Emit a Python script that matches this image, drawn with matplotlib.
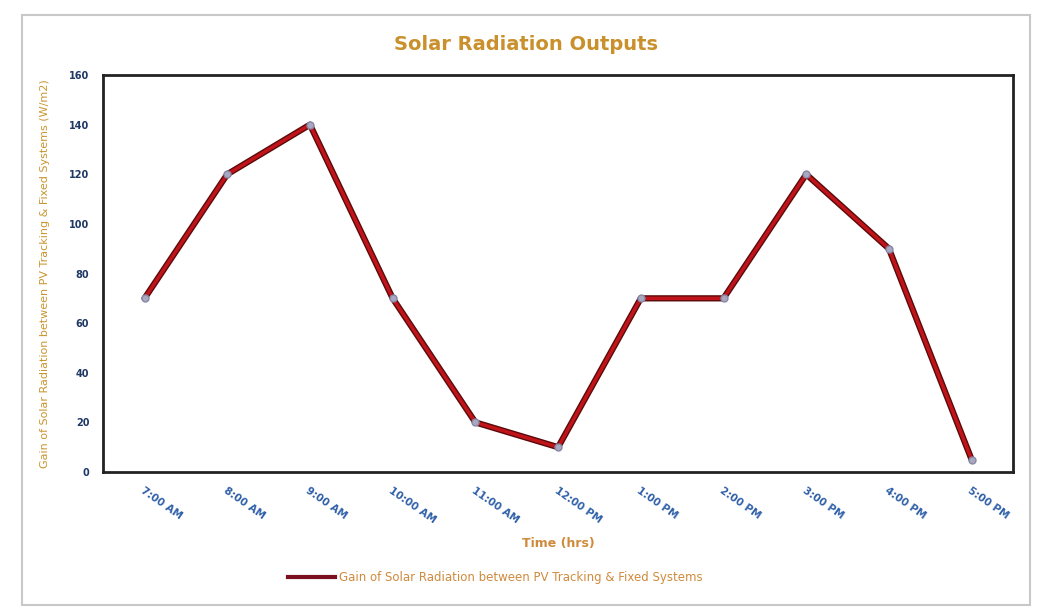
import numpy as np
import matplotlib.pyplot as plt
from matplotlib.patches import Rectangle

times = ['7:00 AM', '8:00 AM', '9:00 AM', '10:00 AM', '11:00 AM', '12:00 PM',
         '1:00 PM', '2:00 PM', '3:00 PM', '4:00 PM', '5:00 PM']
gain = [70, 120, 140, 70, 20, 10, 70, 70, 120, 90, 5]
y_ticks = [0, 20, 40, 60, 80, 100, 120, 140, 160]

fig = plt.figure(figsize=(10.53, 6.15), dpi=100)
fig.patch.set_facecolor('white')

# light frame around the chart
fig.patches.append(Rectangle((22 / 1053, 1 - 605 / 615), 1008 / 1053, 590 / 615,
                             transform=fig.transFigure, fill=False,
                             edgecolor='#c8c8c8', linewidth=1.5))

ax = fig.add_axes([0.098, 0.2325, 0.864, 0.6455])
x = np.arange(len(times))

# dark edge under the red line
ax.plot(x, gain, color='#5a0a0a', linewidth=4.5, solid_capstyle='round', zorder=2)
line, = ax.plot(x, gain, color='#c0141a', linewidth=2.5, marker='o', markersize=5,
                markerfacecolor='#a8a8c0', markeredgecolor='#8888a8', zorder=3)

ax.set_xlim(-0.5, len(times) - 0.5)
ax.set_ylim(0, 160)
ax.set_yticks(y_ticks)
ax.set_yticklabels([str(v) for v in y_ticks], fontsize=7, fontweight='bold', color='#1f3864')
ax.set_xticks(x)
ax.set_xticklabels(times, rotation=-35, ha='left', rotation_mode='anchor',
                   fontsize=7.5, fontweight='bold', color='#2e5fa8')
ax.tick_params(axis='both', length=0, pad=10)

for s in ax.spines.values():
    s.set_linewidth(2)
    s.set_color('#222222')

ax.set_xlabel('Time (hrs)', fontsize=9, fontweight='bold', color='#d08a3c', labelpad=8)
ax.set_ylabel('Gain of Solar Radiation between PV Tracking & Fixed Systems (W/m2)',
              fontsize=8, color='#c8962e', labelpad=14)

fig.text(0.5, 1 - 45 / 615, 'Solar Radiation Outputs', ha='center', va='center',
         fontsize=14, fontweight='bold', color='#c9902c')

handle, = ax.plot([], [], color='#7a1020', linewidth=3,
                  label='Gain of Solar Radiation between PV Tracking & Fixed Systems')
ax.legend(handles=[handle], loc='center', bbox_to_anchor=(495 / 1053, 1 - 578 / 615),
          bbox_transform=fig.transFigure, frameon=False, fontsize=8.5,
          labelcolor='#d08a3c', handlelength=4, handletextpad=0.3)

fig.savefig('out.png', dpi=100)
